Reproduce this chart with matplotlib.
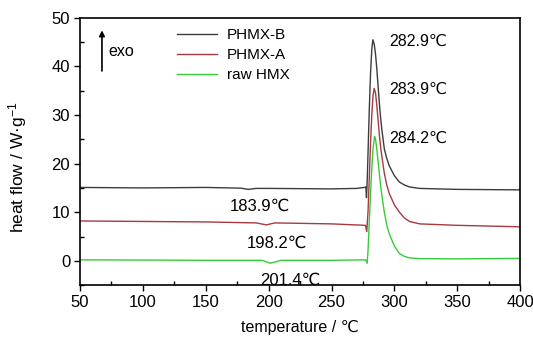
import matplotlib
matplotlib.use("Agg")
import matplotlib.pyplot as plt
from matplotlib.ticker import MultipleLocator

plt.rcParams['font.family'] = ['Liberation Sans', 'DejaVu Sans']
plt.rcParams['mathtext.fontset'] = 'custom'
plt.rcParams['mathtext.rm'] = 'Liberation Sans'
plt.rcParams['mathtext.it'] = 'Liberation Sans'

# PHMX-B
b_x = [50, 100, 150, 178, 183.9, 190, 200, 250, 270, 276, 277.3, 277.8, 278.3, 279, 280, 281, 282, 282.9,
       284, 285, 286, 287, 288, 289, 290, 292, 294, 296, 300, 304, 308, 312, 320, 350, 400]
b_y = [15.1, 15.0, 15.1, 14.95, 14.7, 14.9, 14.9, 14.8, 14.9, 15.1, 15.2, 13.0, 16.0, 22.0, 31.0, 38.5, 43.5, 45.5,
       44.5, 42.5, 39.5, 36.0, 32.5, 29.5, 27.0, 23.0, 21.0, 19.5, 17.5, 16.2, 15.6, 15.2, 14.9, 14.7, 14.6]

# PHMX-A
a_x = [50, 100, 150, 190, 198.2, 205, 250, 277, 278, 279, 280, 281, 282, 283, 283.9,
       285, 286, 287, 288, 289, 290, 292, 294, 296, 300, 304, 308, 312, 320, 350, 400]
a_y = [8.2, 8.1, 8.0, 7.8, 7.4, 7.8, 7.6, 7.3, 6.0, 10.0, 17.0, 24.0, 30.0, 34.0, 35.5,
       34.5, 32.0, 29.0, 26.0, 23.5, 21.5, 18.0, 15.5, 13.8, 11.5, 10.0, 8.8, 8.1, 7.6, 7.3, 7.0]

# raw HMX
r_x = [50, 150, 195, 201.4, 210, 250, 277, 278.3, 279, 280, 281, 282, 283, 284.2,
       285, 286, 287, 288, 289, 290, 292, 294, 296, 300, 304, 308, 312, 320, 350, 400]
r_y = [0.2, 0.1, 0.1, -0.5, 0.1, 0.1, 0.2, -0.5, 2.0, 8.0, 14.0, 19.0, 23.0, 25.6,
       25.0, 23.0, 20.5, 18.0, 15.5, 13.5, 10.0, 7.2, 5.5, 3.0, 1.5, 0.9, 0.6, 0.45, 0.4, 0.5]

series_labels = ['PHMX-B', 'PHMX-A', 'raw HMX']
peak_labels = ['282.9℃', '283.9℃', '284.2℃']
peak_y = [45.2, 35.3, 25.2]
dip_labels = ['183.9℃', '198.2℃', '201.4℃']
dip_x = [193, 207, 217]
dip_y = [11.3, 3.7, -4.1]

fig = plt.figure(figsize=(5.33, 3.37), dpi=100)
ax = fig.add_axes([0.150, 0.154, 0.826, 0.793])

ax.plot(b_x, b_y, color='#3c3c3c', lw=1.0, label=series_labels[0])
ax.plot(a_x, a_y, color='#a63a3e', lw=1.0, label=series_labels[1])
ax.plot(r_x, r_y, color='#38cc38', lw=1.0, label=series_labels[2])

ax.set_xlim(50, 400)
ax.set_ylim(-5, 50)
ax.xaxis.set_major_locator(MultipleLocator(50))
ax.xaxis.set_minor_locator(MultipleLocator(25))
ax.yaxis.set_major_locator(MultipleLocator(10))
ax.yaxis.set_minor_locator(MultipleLocator(5))
ax.tick_params(which='major', direction='out', length=4, width=1.0, labelsize=12, pad=3)
ax.tick_params(which='minor', direction='in', length=3, width=1.0)
for s in ax.spines.values():
    s.set_linewidth(1.2)

ax.set_xlabel('temperature / ℃', fontsize=11.5, labelpad=7)
ax.set_ylabel('heat flow / W·g$^{-1}$', fontsize=12.5)
ax.yaxis.set_label_coords(-0.115, 0.44)

leg = ax.legend(loc='upper left', bbox_to_anchor=(0.2, 0.995), frameon=False,
                fontsize=11, handlelength=2.6, handletextpad=0.65,
                labelspacing=0.38, borderaxespad=0.2)

ax.annotate('', xy=(67.5, 48), xytext=(67.5, 38.5),
            arrowprops=dict(arrowstyle='-|>', color='black', lw=1.2, mutation_scale=8))
ax.text(72.5, 43, 'exo', fontsize=11.5, va='center', ha='left')

for lab, y in zip(peak_labels, peak_y):
    ax.text(296, y, lab, fontsize=11.5, va='center', ha='left')
for lab, x, y in zip(dip_labels, dip_x, dip_y):
    ax.text(x, y, lab, fontsize=12, va='center', ha='center')

fig.savefig('out.png', dpi=100)
